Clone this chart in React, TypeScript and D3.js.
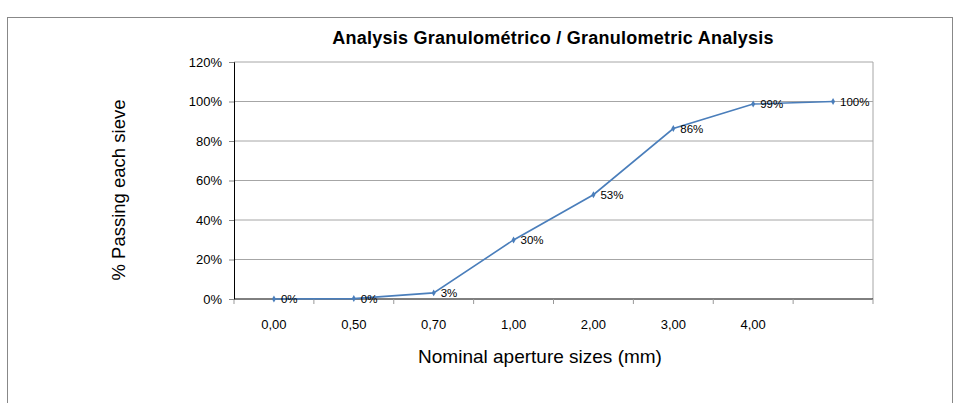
import React, { useEffect, useRef } from "react";
import * as d3 from "d3";

// sieve sizes (last category has no label in the original)
const categories = ["0,00", "0,50", "0,70", "1,00", "2,00", "3,00", "4,00", ""];
const passing = [0.0, 0.2, 3.1, 29.9, 52.8, 86.3, 98.7, 100];
const pctLabels = ["0%", "0%", "3%", "30%", "53%", "86%", "99%", "100%"];
const yTicks = [0, 20, 40, 60, 80, 100, 120];

const W = 960;
const H = 403;
const margin = { top: 62, right: 87, bottom: 104, left: 234 };
const font = "'Liberation Sans', Arial, Helvetica, sans-serif";

export default function App() {
  const ref = useRef<SVGGElement>(null);

  useEffect(() => {
    const g = d3.select(ref.current);
    g.selectAll("*").remove();
    const width = W - margin.left - margin.right;
    const height = H - margin.top - margin.bottom;

    const x = d3
      .scaleBand<string>()
      .domain(categories.map((_, i) => String(i)))
      .range([0, width]);
    const y = d3.scaleLinear().domain([0, 120]).range([height, 0]);

    // gridlines
    g.append("g")
      .selectAll("line")
      .data(yTicks.slice(1))
      .enter()
      .append("line")
      .attr("x1", 0)
      .attr("x2", width)
      .attr("y1", (d) => y(d))
      .attr("y2", (d) => y(d))
      .attr("stroke", "#a6a6a6")
      .attr("stroke-width", 1);

    // right border of plot area
    g.append("line")
      .attr("x1", width)
      .attr("x2", width)
      .attr("y1", 0)
      .attr("y2", height)
      .attr("stroke", "#a6a6a6");

    // y axis
    const yAxis = g
      .append("g")
      .call(
        d3
          .axisLeft(y)
          .tickValues(yTicks)
          .tickSize(5)
          .tickPadding(7)
          .tickFormat((d) => `${d}%`)
      );
    yAxis.select(".domain").attr("stroke", "#000");
    yAxis.selectAll(".tick line").attr("stroke", "#888");
    yAxis
      .selectAll("text")
      .attr("font-family", font)
      .attr("font-size", 13)
      .attr("fill", "#000");

    // x axis: ticks at category boundaries
    const xg = g.append("g").attr("transform", `translate(0,${height})`);
    xg.append("line")
      .attr("x1", 0)
      .attr("x2", width)
      .attr("stroke", "#000");
    xg.selectAll("line.tk")
      .data(d3.range(categories.length + 1))
      .enter()
      .append("line")
      .attr("class", "tk")
      .attr("x1", (i) => i * x.bandwidth())
      .attr("x2", (i) => i * x.bandwidth())
      .attr("y1", 0)
      .attr("y2", 5)
      .attr("stroke", "#999");
    xg.selectAll("text")
      .data(categories)
      .enter()
      .append("text")
      .attr("x", (_, i) => x(String(i))! + x.bandwidth() / 2)
      .attr("y", 30)
      .attr("text-anchor", "middle")
      .attr("font-family", font)
      .attr("font-size", 13)
      .text((d) => d);

    // series line
    const cx = (i: number) => x(String(i))! + x.bandwidth() / 2;
    g.append("path")
      .datum(passing)
      .attr("fill", "none")
      .attr("stroke", "#4a7ebb")
      .attr("stroke-width", 1.6)
      .attr(
        "d",
        d3
          .line<number>()
          .x((_, i) => cx(i))
          .y((d) => y(d))
      );

    // diamond markers
    g.selectAll("path.mk")
      .data(passing)
      .enter()
      .append("path")
      .attr("class", "mk")
      .attr("d", d3.symbol(d3.symbolDiamond, 14)())
      .attr("transform", (d, i) => `translate(${cx(i)},${y(d)})`)
      .attr("fill", "#4a7ebb");

    // data labels
    g.selectAll("text.lbl")
      .data(passing)
      .enter()
      .append("text")
      .attr("class", "lbl")
      .attr("x", (_, i) => cx(i) + 7)
      .attr("y", (d) => y(d) + 4)
      .attr("font-family", font)
      .attr("font-size", 11.5)
      .attr("fill", "#000")
      .text((_, i) => pctLabels[i]);
  }, []);

  return (
    <svg
      width={W}
      height={H}
      style={{ position: "absolute", left: 0, top: 0, background: "#fff" }}
    >
      <rect x={7.5} y={17.5} width={945} height={400} fill="none" stroke="#888" />
      <text
        x={553}
        y={44}
        textAnchor="middle"
        fontFamily={font}
        fontWeight="bold"
        fontSize={18}
        letterSpacing={0.25}
      >
        Analysis Granulométrico / Granulometric Analysis
      </text>
      <text
        transform="translate(125,190) rotate(-90)"
        textAnchor="middle"
        fontFamily={font}
        fontSize={18.5}
      >
        % Passing each sieve
      </text>
      <text x={540} y={363} textAnchor="middle" fontFamily={font} fontSize={19}>
        Nominal aperture sizes (mm)
      </text>
      <g ref={ref} transform={`translate(${margin.left},${margin.top})`} />
    </svg>
  );
}
